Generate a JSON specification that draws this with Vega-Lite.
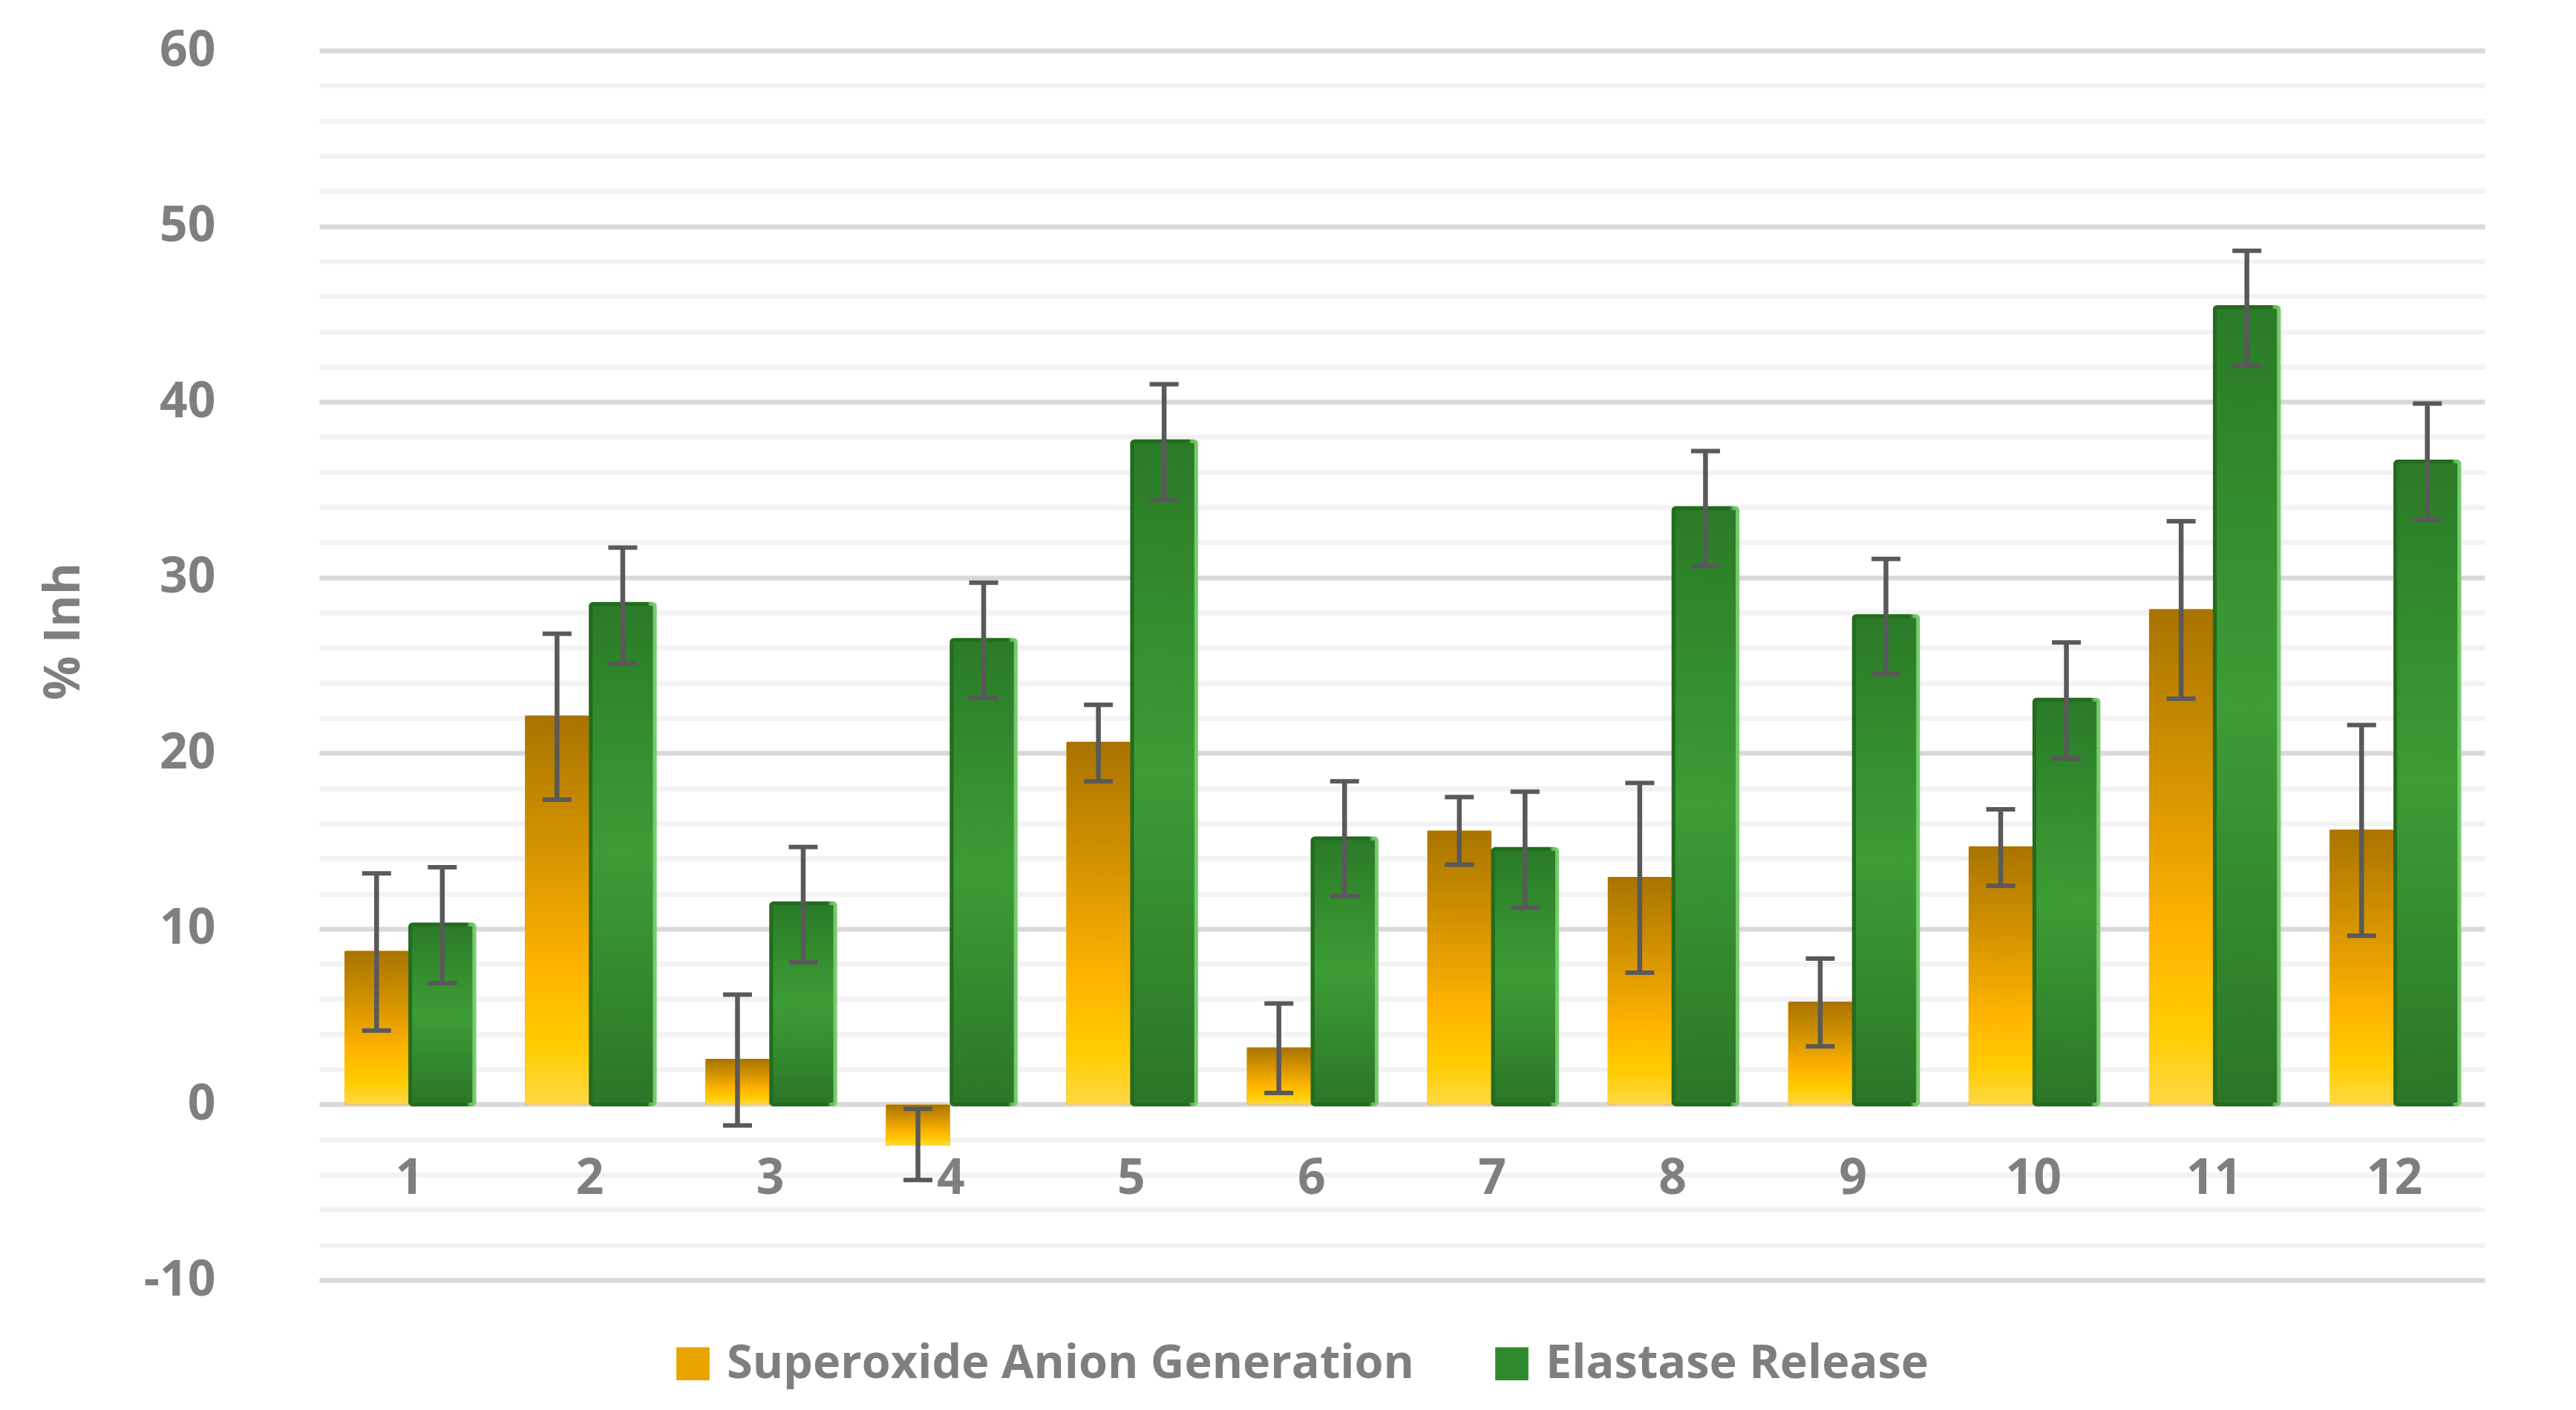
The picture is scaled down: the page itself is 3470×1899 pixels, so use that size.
{
  "$schema": "https://vega.github.io/schema/vega-lite/v6.json",
  "autosize": {"type": "none"},
  "padding": {"left": 430, "top": 68, "right": 123, "bottom": 175},
  "width": 2917,
  "height": 1656,
  "background": "white",
  "config": {
    "view": {"stroke": null},
    "font": "Open Sans",
    "axis": {"labelColor": "#7f7f7f", "titleColor": "#7f7f7f", "labelFontWeight": "bold", "titleFontWeight": "bold"}
  },
  "data": {
    "values": [
      {"cmpd": 1, "series": "Superoxide Anion Generation", "value": 8.75, "lo": 4.2, "hi": 13.15},
      {"cmpd": 1, "series": "Elastase Release", "value": 10.25, "lo": 6.9, "hi": 13.5},
      {"cmpd": 2, "series": "Superoxide Anion Generation", "value": 22.15, "lo": 17.35, "hi": 26.8},
      {"cmpd": 2, "series": "Elastase Release", "value": 28.5, "lo": 25.1, "hi": 31.7},
      {"cmpd": 3, "series": "Superoxide Anion Generation", "value": 2.6, "lo": -1.2, "hi": 6.25},
      {"cmpd": 3, "series": "Elastase Release", "value": 11.45, "lo": 8.1, "hi": 14.65},
      {"cmpd": 4, "series": "Superoxide Anion Generation", "value": -2.35, "lo": -4.3, "hi": -0.25},
      {"cmpd": 4, "series": "Elastase Release", "value": 26.45, "lo": 23.15, "hi": 29.7},
      {"cmpd": 5, "series": "Superoxide Anion Generation", "value": 20.65, "lo": 18.4, "hi": 22.75},
      {"cmpd": 5, "series": "Elastase Release", "value": 37.75, "lo": 34.4, "hi": 41.0},
      {"cmpd": 6, "series": "Superoxide Anion Generation", "value": 3.25, "lo": 0.65, "hi": 5.75},
      {"cmpd": 6, "series": "Elastase Release", "value": 15.15, "lo": 11.85, "hi": 18.4},
      {"cmpd": 7, "series": "Superoxide Anion Generation", "value": 15.6, "lo": 13.65, "hi": 17.5},
      {"cmpd": 7, "series": "Elastase Release", "value": 14.55, "lo": 11.2, "hi": 17.8},
      {"cmpd": 8, "series": "Superoxide Anion Generation", "value": 12.95, "lo": 7.5, "hi": 18.3},
      {"cmpd": 8, "series": "Elastase Release", "value": 33.95, "lo": 30.65, "hi": 37.2},
      {"cmpd": 9, "series": "Superoxide Anion Generation", "value": 5.85, "lo": 3.3, "hi": 8.3},
      {"cmpd": 9, "series": "Elastase Release", "value": 27.8, "lo": 24.5, "hi": 31.05},
      {"cmpd": 10, "series": "Superoxide Anion Generation", "value": 14.7, "lo": 12.45, "hi": 16.8},
      {"cmpd": 10, "series": "Elastase Release", "value": 23.05, "lo": 19.7, "hi": 26.3},
      {"cmpd": 11, "series": "Superoxide Anion Generation", "value": 28.2, "lo": 23.1, "hi": 33.2},
      {"cmpd": 11, "series": "Elastase Release", "value": 45.4, "lo": 42.05, "hi": 48.6},
      {"cmpd": 12, "series": "Superoxide Anion Generation", "value": 15.65, "lo": 9.6, "hi": 21.6},
      {"cmpd": 12, "series": "Elastase Release", "value": 36.6, "lo": 33.3, "hi": 39.9}
    ]
  },
  "encoding": {
    "x": {
      "field": "cmpd",
      "type": "ordinal",
      "scale": {"paddingInner": 0.28, "paddingOuter": 0.14},
      "axis": {
        "title": null,
        "labelAngle": 0,
        "labelFontSize": 66,
        "labelBaseline": "middle",
        "labelPadding": 100,
        "ticks": false,
        "domain": false,
        "offset": -236.6
      }
    },
    "xOffset": {
      "field": "series",
      "type": "nominal",
      "sort": ["Superoxide Anion Generation", "Elastase Release"],
      "scale": {"paddingInner": 0.023, "paddingOuter": 0}
    }
  },
  "layer": [
    {
      "mark": {"type": "bar"},
      "encoding": {
        "y": {
          "field": "value",
          "type": "quantitative",
          "scale": {"domain": [-10, 60], "nice": false},
          "axis": {
            "title": "% Inh",
            "titleFontSize": 66,
            "titleX": -324,
            "titleY": 782,
            "titleAngle": 270,
            "titleAlign": "center",
            "titleBaseline": "alphabetic",
            "labelFontSize": 66,
            "labelPadding": 140,
            "labelBaseline": "middle",
            "ticks": false,
            "domain": false,
            "values": [-10, -8, -6, -4, -2, 0, 2, 4, 6, 8, 10, 12, 14, 16, 18, 20, 22, 24, 26, 28, 30, 32, 34, 36, 38, 40, 42, 44, 46, 48, 50, 52, 54, 56, 58, 60],
            "labelExpr": "datum.value % 10 === 0 ? (datum.value < 0 ? '-' + abs(datum.value) : '' + datum.value) : ''",
            "gridWidth": 6.5,
            "gridColor": {"condition": {"test": "datum.value % 10 === 0", "value": "#d9d9d9"}, "value": "#f2f2f2"}
          }
        },
        "color": {
          "field": "series",
          "type": "nominal",
          "scale": {"domain": ["Superoxide Anion Generation", "Elastase Release"], "range": ["#e9a400", "#2f8a2d"]},
          "legend": {
            "title": null,
            "orient": "none",
            "direction": "horizontal",
            "legendX": 472,
            "legendY": 1737,
            "padding": 0,
            "symbolType": "square",
            "symbolSize": 2000,
            "symbolStrokeWidth": 0,
            "labelFontSize": 63,
            "labelFontWeight": "bold",
            "labelColor": "#7f7f7f",
            "labelOffset": 14,
            "labelLimit": 3000,
            "columnPadding": 100
          }
        }
      }
    },
    {
      "mark": {"type": "bar", "cornerRadius": 3},
      "encoding": {
        "y": {"field": "value", "type": "quantitative"},
        "fill": {
          "condition": {
            "test": "datum.series === 'Superoxide Anion Generation'",
            "value": {
              "gradient": "linear", "x1": 0, "y1": 0, "x2": 0, "y2": 1,
              "stops": [
                {"offset": 0, "color": "#a87300"},
                {"offset": 0.35, "color": "#d59400"},
                {"offset": 0.65, "color": "#ffb300"},
                {"offset": 0.85, "color": "#ffcc00"},
                {"offset": 1, "color": "#ffd844"}
              ]
            }
          },
          "value": {
            "gradient": "linear", "x1": 0, "y1": 0, "x2": 0, "y2": 1,
            "stops": [
              {"offset": 0, "color": "#2a7a27"},
              {"offset": 0.3, "color": "#35902f"},
              {"offset": 0.5, "color": "#3d9c36"},
              {"offset": 0.75, "color": "#338a2e"},
              {"offset": 1, "color": "#2b7527"}
            ]
          }
        },
        "stroke": {
          "value": {
            "gradient": "linear", "x1": 0, "y1": 0, "x2": 1, "y2": 0,
            "stops": [
              {"offset": 0, "color": "#236b1e"},
              {"offset": 0.88, "color": "#236b1e"},
              {"offset": 0.93, "color": "#5fc055"},
              {"offset": 1, "color": "#7acb70"}
            ]
          }
        },
        "strokeWidth": {
          "condition": {"test": "datum.series === 'Superoxide Anion Generation'", "value": 0},
          "value": 5
        }
      }
    },
    {
      "mark": {"type": "rule", "color": "#595959", "strokeWidth": 6.5},
      "encoding": {
        "y": {"field": "lo", "type": "quantitative"},
        "y2": {"field": "hi"}
      }
    },
    {
      "mark": {"type": "tick", "color": "#595959", "size": 39, "thickness": 6, "opacity": 1},
      "encoding": {
        "y": {"field": "lo", "type": "quantitative"}
      }
    },
    {
      "mark": {"type": "tick", "color": "#595959", "size": 39, "thickness": 6, "opacity": 1},
      "encoding": {
        "y": {"field": "hi", "type": "quantitative"}
      }
    }
  ]
}
